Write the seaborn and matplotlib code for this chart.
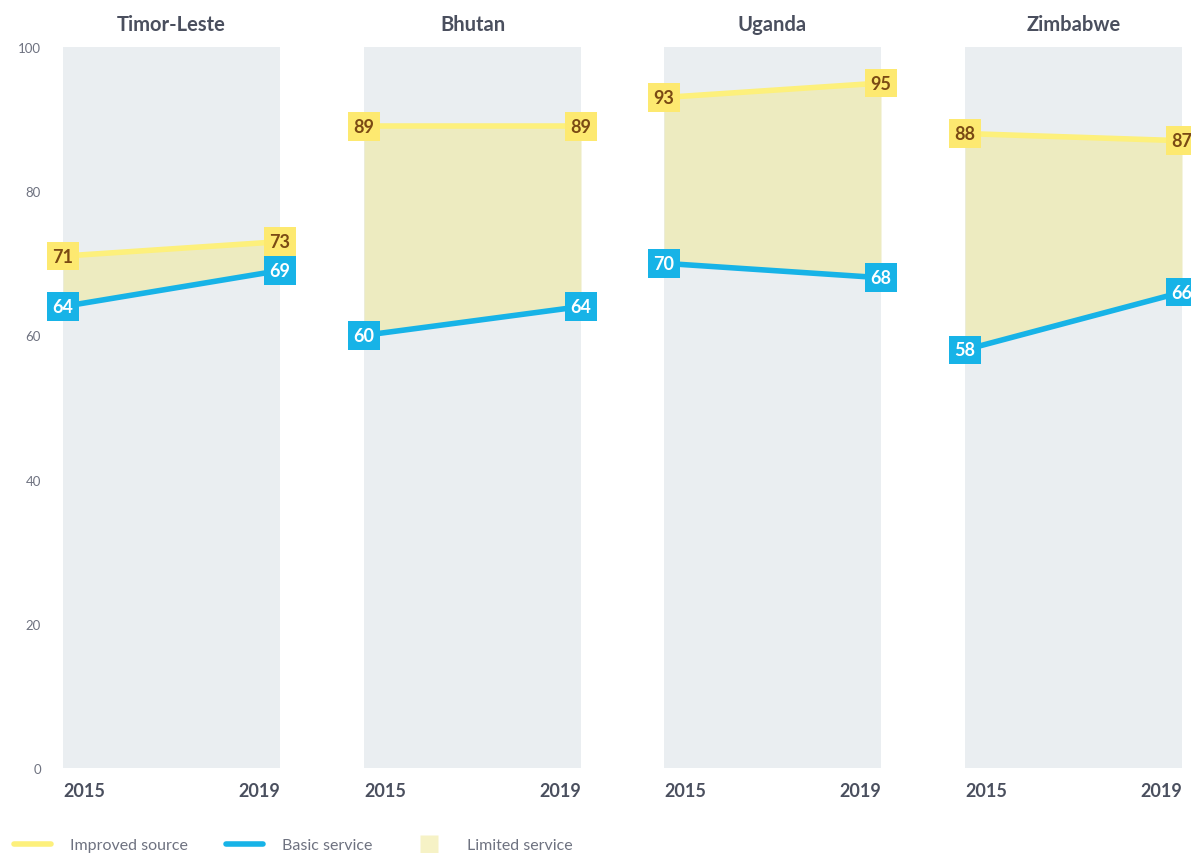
import pandas as pd
import matplotlib
matplotlib.use("Agg")
import matplotlib.pyplot as plt
from matplotlib.lines import Line2D
import seaborn as sns

# Data
countries = ["Timor-Leste", "Bhutan", "Uganda", "Zimbabwe"]
years = [2015, 2019]
improved = [[71, 73], [89, 89], [93, 95], [88, 87]]
basic = [[64, 69], [60, 64], [70, 68], [58, 66]]
yticks = [0, 20, 40, 60, 80, 100]

# Colours
YELLOW = "#fdf07c"
YELLOW_BOX = "#fde970"
BROWN = "#7a4a14"
BLUE = "#17b3e7"
FILL = "#edebc0"
PANEL = "#eaeef1"
DARK = "#4a4f5e"
GREY = "#6e7280"

sns.set_theme(style="white")
plt.rcParams["font.family"] = ["Lato", "DejaVu Sans"]

rows = []
for i, c in enumerate(countries):
    for j, y in enumerate(years):
        rows.append({"country": c, "year": y, "series": "Improved source", "value": improved[i][j]})
        rows.append({"country": c, "year": y, "series": "Basic service", "value": basic[i][j]})
df = pd.DataFrame(rows)

fig = plt.figure(figsize=(11.91, 8.54), dpi=100)

W, H = 1191, 854
lefts = [63, 364, 664, 965]
ax_w = 217
top, bottom = 48, 769

for i, c in enumerate(countries):
    ax = fig.add_axes([lefts[i] / W, (H - bottom) / H, ax_w / W, (bottom - top) / H])
    ax.set_facecolor(PANEL)
    sub = df[df["country"] == c]
    imp = sub[sub["series"] == "Improved source"]
    bas = sub[sub["series"] == "Basic service"]

    ax.fill_between(imp["year"].values, bas["value"].values, imp["value"].values,
                    color=FILL, lw=0, zorder=1)
    sns.lineplot(data=imp, x="year", y="value", color=YELLOW, lw=4, ax=ax, zorder=2)
    sns.lineplot(data=bas, x="year", y="value", color=BLUE, lw=4, ax=ax, zorder=3)

    for yr, v in zip(imp["year"], imp["value"]):
        ax.text(yr, v, f"{v}", ha="center", va="center", fontsize=13, fontweight="bold",
                color=BROWN, zorder=5, clip_on=False,
                bbox=dict(boxstyle="square,pad=0.32", fc=YELLOW_BOX, ec="none"))
    for yr, v in zip(bas["year"], bas["value"]):
        ax.text(yr, v, f"{v}", ha="center", va="center", fontsize=13, fontweight="bold",
                color="white", zorder=5, clip_on=False,
                bbox=dict(boxstyle="square,pad=0.32", fc=BLUE, ec="none"))

    ax.set_xlim(years[0], years[-1])
    ax.set_ylim(0, 100)
    ax.set_xlabel("")
    ax.set_ylabel("")
    for s in ax.spines.values():
        s.set_visible(False)

    ax.set_xticks(years)
    ax.set_xticklabels([str(y) for y in years], fontsize=13, fontweight="bold", color=DARK)
    xl = ax.get_xticklabels()
    xl[0].set_ha("left")
    xl[1].set_ha("right")
    ax.tick_params(axis="x", length=0, pad=10)

    if i == 0:
        ax.set_yticks(yticks)
        ax.set_yticklabels([str(t) for t in yticks], fontsize=9.5, color=GREY)
        ax.tick_params(axis="y", length=0, pad=16)
    else:
        ax.set_yticks([])

    ax.set_title(c, fontsize=14.5, fontweight="bold", color=DARK, pad=12)

handles = [
    Line2D([0], [0], color=YELLOW, lw=4),
    Line2D([0], [0], color=BLUE, lw=4),
    Line2D([0], [0], color="none", marker="s", markersize=13,
           markerfacecolor="#f6f2c6", markeredgecolor="none"),
]
labels = ["Improved source", "Basic service", "Limited service"]
fig.legend(handles, labels, loc="lower left", bbox_to_anchor=(0.0, -0.016), ncol=3,
           frameon=False, fontsize=11.5, handlelength=2.3, handletextpad=1.2,
           columnspacing=2.4, labelcolor=GREY)

fig.savefig("out.png", dpi=100)
